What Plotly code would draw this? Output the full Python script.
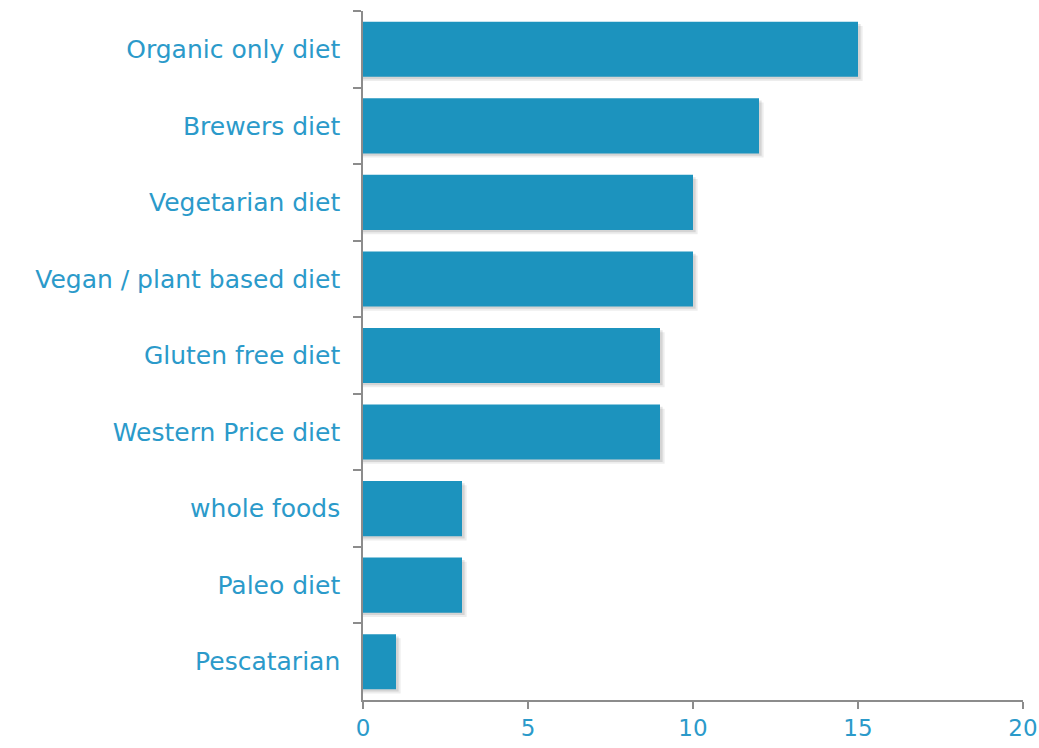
import plotly.graph_objects as go

categories = ["Organic only diet", "Brewers diet", "Vegetarian diet", "Vegan / plant based diet",
              "Gluten free diet", "Western Price diet", "whole foods", "Paleo diet", "Pescatarian"]
values = [15, 12, 10, 10, 9, 9, 3, 3, 1]
x_ticks = [0, 5, 10, 15, 20]

BAR = "#1C93BE"
TXT = "#2B9ACA"
AX = "#8C8C8C"
FONT = "DejaVu Sans"
W = 0.72

fig = go.Figure()
# soft drop shadow (two faint layers shifted right/down)
for dx, dy, a in [(0.14, 0.055, 0.07), (0.08, 0.03, 0.10)]:
    fig.add_trace(go.Bar(
        y=categories, x=[v + dx for v in values], orientation="h",
        marker=dict(color=f"rgba(0,0,0,{a})", line=dict(width=0)),
        width=W, offset=-W / 2 + dy, hoverinfo="skip",
    ))
fig.add_trace(go.Bar(
    y=categories, x=values, orientation="h",
    marker=dict(color=BAR, line=dict(width=0)),
    width=W, offset=-W / 2,
))

fig.update_layout(
    width=1039, height=748,
    margin=dict(l=363, r=16, t=11, b=48),
    paper_bgcolor="white", plot_bgcolor="white",
    showlegend=False, barmode="overlay",
    font=dict(family=FONT, color=TXT, size=25),
)
fig.update_xaxes(
    range=[0, 20], tickvals=x_ticks, ticktext=[str(v) for v in x_ticks],
    showgrid=False, zeroline=False, showline=True, linecolor=AX, linewidth=1.5,
    ticks="outside", ticklen=7, tickcolor=AX, tickwidth=1.5,
    tickfont=dict(size=23, color=TXT, family=FONT), ticklabelstandoff=0,
    ticklabeloverflow="allow", automargin=False,
)
fig.update_yaxes(
    autorange="reversed", type="category",
    showgrid=False, zeroline=False, showline=True, linecolor=AX, linewidth=1.5,
    ticks="outside", ticklen=8, tickcolor=AX, tickwidth=1.5, tickson="boundaries",
    tickfont=dict(size=25, color=TXT, family=FONT), ticklabelstandoff=16,
    automargin=False,
)
fig.write_html("out.html")
